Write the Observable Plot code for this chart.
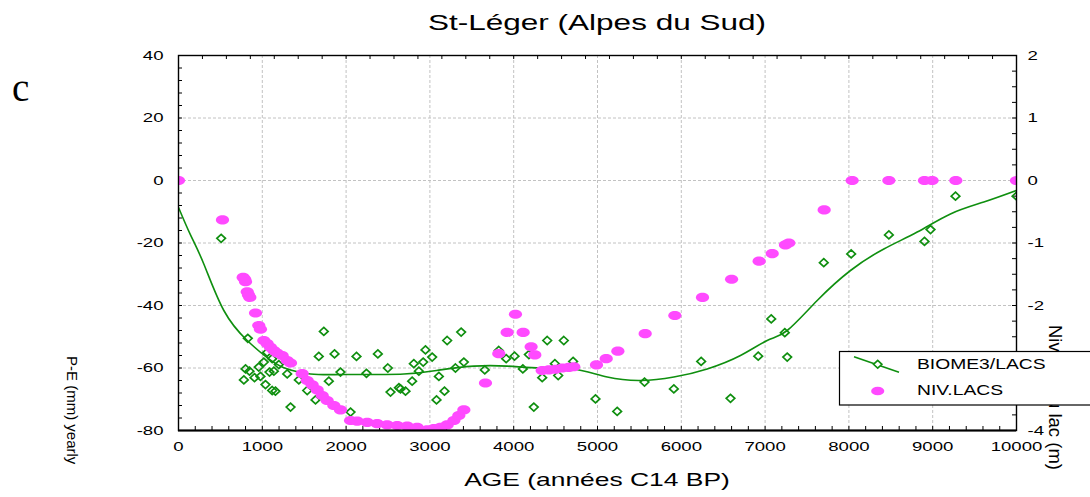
<!DOCTYPE html>
<html><head><meta charset="utf-8">
<script src="https://cdn.jsdelivr.net/npm/d3@7"></script>
<script src="https://cdn.jsdelivr.net/npm/@observablehq/plot@0.6"></script>
<style>
body{margin:0;background:#fff;}
#wrap{position:relative;width:1090px;height:497px;overflow:hidden;font-family:"Liberation Sans",Arial,sans-serif;background:#fff;}
#wrap > svg{position:absolute;left:0;top:0;}
.lbl{position:absolute;white-space:nowrap;line-height:1;color:#000;}
</style></head><body><div id="wrap"></div>
<script>
// ---- data ----
const biomeAge = [509,780,800,827,847,907,958,978,1018,1038,1058,1086,1118,1118,1138,1157,1197,1297,1337,1436,1536,1635,1674,1734,1794,1862,1933,2053,2124,2243,2379,2498,2530,2630,2649,2709,2788,2808,2868,2920,2947,3027,3079,3107,3174,3206,3305,3373,3405,3655,3822,3910,4010,4109,4181,4240,4340,4400,4491,4531,4598,4709,4976,5235,5561,5911,6237,6587,6918,7073,7235,7264,7700,8027,8477,8902,8974,9272,10000];
const biomeVal = [-18.5,-63.8,-60.3,-50.5,-61,-63.1,-59.7,-62.7,-58.1,-65.3,-55,-61.3,-57,-67.2,-61,-67.4,-58.9,-61.9,-72.5,-63.8,-67.2,-70.2,-56.3,-48.3,-64.2,-55.5,-61.3,-74.1,-56.3,-61.7,-55.5,-60,-67.7,-66.3,-66.7,-67.4,-64.2,-58.6,-61,-58.1,-54.2,-56.5,-70.2,-62.7,-67.4,-51.2,-60,-48.5,-58.1,-60.6,-54.4,-57,-56.2,-60.3,-55.7,-72.5,-63.1,-51.2,-58.6,-62.4,-51.2,-57.9,-69.9,-73.9,-64.5,-66.7,-57.9,-69.7,-56.2,-44.3,-48.7,-56.5,-26.3,-23.5,-17.4,-19.5,-15.7,-5,-5];

const nivAge = [0,525,772,790,800,820,835,851,919,958,978,1018,1058,1098,1138,1177,1237,1297,1337,1476,1536,1595,1655,1715,1774,1854,1933,2053,2132,2252,2371,2490,2610,2729,2848,2968,3047,3126,3206,3286,3345,3405,3663,3822,3922,4021,4113,4208,4252,4340,4420,4499,4579,4658,4717,4988,5104,5243,5569,5923,6253,6600,6929,7085,7243,7283,7705,8039,8477,8902,8993,9276,10000];
const nivM = [0,-0.63,-1.55,-1.58,-1.62,-1.78,-1.83,-1.87,-2.12,-2.32,-2.38,-2.56,-2.61,-2.67,-2.72,-2.76,-2.80,-2.88,-2.92,-3.09,-3.20,-3.27,-3.35,-3.44,-3.52,-3.60,-3.67,-3.84,-3.85,-3.87,-3.89,-3.91,-3.92,-3.93,-3.95,-3.99,-3.97,-3.95,-3.91,-3.84,-3.76,-3.67,-3.24,-2.77,-2.43,-2.14,-2.43,-2.66,-2.79,-3.04,-3.03,-3.02,-3.00,-2.99,-2.98,-2.95,-2.85,-2.73,-2.45,-2.16,-1.87,-1.58,-1.29,-1.17,-1.03,-1.00,-0.47,0,0,0,0,0,0];

const fitAge = [0,143,302,541,820,1058,1257,1575,1973,2690,3126,3524,3922,4320,4718,5116,5513,5911,6309,6706,7025,7264,7622,8019,8417,8815,9212,9610,10000];
const fitVal = [-8.6,-17.4,-26.7,-41.6,-51.2,-56.7,-59.9,-61.9,-62.1,-61.9,-60.6,-59.4,-59.4,-60,-60.3,-62.9,-64,-62.9,-60.3,-56,-51.2,-48,-38.4,-28.8,-21.9,-16.5,-10.7,-6.9,-3.2];

const xTicks = [0,1000,2000,3000,4000,5000,6000,7000,8000,9000,10000];
const yLeftTicks = [-80,-60,-40,-20,0,20,40];
const yRightTicks = [-4,-2,-1,0,1,2]; // "-3" is hidden behind the legend in the reference
const ratio = 20; // right axis (m) -> left axis units

const biome = biomeAge.map((a,i)=>({age:a, val:biomeVal[i]}));
const niv = nivAge.map((a,i)=>({age:a, m:nivM[i]}));
const fit = fitAge.map((a,i)=>({age:a, val:fitVal[i]}));

const GREEN = "#0f8f0f", PINK = "#ff4aff";
const FW = 1090-178-74, FH = 497-55-67;

const ellipseSym = {draw(c){const rx=6.6, ry=4.6, k=0.5523;
  c.moveTo(rx,0); c.bezierCurveTo(rx,ry*k,rx*k,ry,0,ry); c.bezierCurveTo(-rx*k,ry,-rx,ry*k,-rx,0);
  c.bezierCurveTo(-rx,-ry*k,-rx*k,-ry,0,-ry); c.bezierCurveTo(rx*k,-ry,rx,-ry*k,rx,0); c.closePath();}};
const diamondSym = {draw(c){c.moveTo(0,-4); c.lineTo(4.3,0); c.lineTo(0,4); c.lineTo(-4.3,0); c.closePath();}};

const grid = {stroke:"#c2c2c2", strokeDasharray:"3,2", strokeWidth:1};

const chart = Plot.plot({
  width:1090, height:497, marginTop:55, marginRight:74, marginBottom:67, marginLeft:178,
  x:{domain:[0,10000]}, y:{domain:[-80,40]},
  style:{fontFamily:"'Liberation Sans', Arial, sans-serif", fontSize:"13px", background:"transparent", color:"#000"},
  marks:[
    Plot.ruleX(xTicks.slice(1,-1), grid),
    Plot.ruleY(yLeftTicks.slice(1,-1), grid),
    // inward tick marks
    Plot.ruleY(d3.range(-80,41,4), {insetRight:FW-4, stroke:"#000"}),
    Plot.ruleY(d3.range(-80,41,5), {insetLeft:FW-4, stroke:"#000"}),
    Plot.ruleX(d3.range(0,10001,200), {insetTop:FH-4, stroke:"#000"}),
    Plot.ruleX(d3.range(0,35).map(i=>i*10000/35), {insetBottom:FH-4, stroke:"#000"}),
    Plot.line(fit, {x:"age", y:"val", curve:"natural", stroke:GREEN, strokeWidth:1.6, clip:true}),
    Plot.dot(biome, {x:"age", y:"val", symbol:diamondSym, stroke:GREEN, fill:"none", strokeWidth:1.7, clip:true}),
    Plot.dot(niv, {x:"age", y:d=>d.m*ratio, symbol:ellipseSym, fill:PINK, clip:true}),
    Plot.frame({stroke:"#000", strokeWidth:1.4}),
    Plot.ruleY([-80], {stroke:"#000", strokeWidth:2}),
    Plot.axisY({anchor:"left", ticks:yLeftTicks, tickSize:0, tickPadding:15, tickFormat:d=>String(d), label:null}),
    Plot.axisY({anchor:"right", ticks:yRightTicks.map(m=>m*ratio), tickSize:0, tickPadding:11, tickFormat:d=>String(d/ratio), label:null}),
    Plot.axisX({anchor:"bottom", ticks:xTicks, tickSize:0, tickPadding:11, tickFormat:d=>String(d), label:null})
  ]
});
const wrap = document.getElementById("wrap");
wrap.appendChild(chart);

// horizontally stretch tick labels like the reference
chart.querySelectorAll('g[aria-label$="tick label"] text').forEach(t=>{
  let tr = t.getAttribute("transform");
  if (!tr) { const x=t.getAttribute("x")||0, y=t.getAttribute("y")||0; t.removeAttribute("x"); t.removeAttribute("y"); tr=`translate(${x},${y})`; }
  t.setAttribute("transform", tr+" scale(1.43,1)");
});

function addLbl(text, css){ const d=document.createElement("div"); d.className="lbl"; d.textContent=text; Object.assign(d.style, css); wrap.appendChild(d); return d; }
addLbl("St-Léger (Alpes du Sud)", {left:"597px", top:"12px", fontSize:"22.5px", transform:"translateX(-50%) scaleX(1.4)"});
addLbl("AGE (années C14 BP)", {left:"597px", top:"470px", fontSize:"19px", transform:"translateX(-50%) scaleX(1.39)"});
addLbl("c", {left:"12px", top:"68px", fontSize:"39px", fontFamily:"'Liberation Serif', 'Times New Roman', serif"});
addLbl("P-E (mm) yearly", {left:"80px", top:"356px", fontSize:"15px", transformOrigin:"0 0", transform:"rotate(90deg)"});
addLbl("Niveau du lac (m)", {left:"1063.7px", top:"325px", fontSize:"18.5px", transformOrigin:"0 0", transform:"rotate(90deg)"});

// legend
const ns="http://www.w3.org/2000/svg";
const lg=document.createElementNS(ns,"svg");
lg.setAttribute("width",1090); lg.setAttribute("height",497);
lg.style.position="absolute"; lg.style.left="0"; lg.style.top="0";
lg.innerHTML = `
<rect x="839.5" y="351.5" width="262" height="53.5" fill="#fff" stroke="#000" stroke-width="1.2"/>
<line x1="854" y1="356.7" x2="899" y2="372.3" stroke="${GREEN}" stroke-width="1.6"/>
<path d="M877.7,360.4L881.9,364.3L877.7,368.2L873.5,364.3Z" fill="#fff" stroke="${GREEN}" stroke-width="1.6"/>
<ellipse cx="877.7" cy="391" rx="6.6" ry="4.3" fill="${PINK}"/>
<text transform="translate(917,368.5) scale(1.33,1)" font-size="14.5" font-family="'Liberation Sans', Arial, sans-serif">BIOME3/LACS</text>
<text transform="translate(917,395) scale(1.33,1)" font-size="14.5" font-family="'Liberation Sans', Arial, sans-serif">NIV.LACS</text>`;
wrap.appendChild(lg);
</script></body></html>
